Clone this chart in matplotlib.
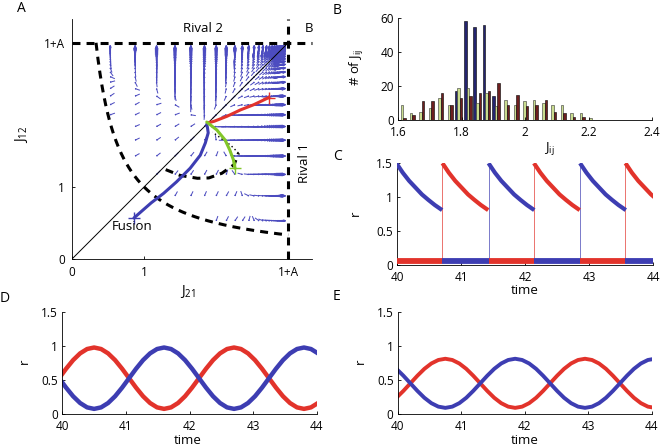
import numpy as np
import matplotlib
matplotlib.use("Agg")
import matplotlib.pyplot as plt
from matplotlib.collections import LineCollection

plt.rcParams['font.family'] = ['Open Sans', 'DejaVu Sans']
plt.rcParams['mathtext.fontset'] = 'custom'
plt.rcParams['mathtext.rm'] = 'Open Sans'
plt.rcParams['mathtext.it'] = 'Open Sans:italic'

BLUE = '#3d3db2'
RED = '#e2332b'
GREEN = '#82c629'
QBLUE = '#4c4cc0'

# ---------------- Panel A data ----------------
one_plus_A = 3.0
node = 1.88
traj_blue_x = [0.86, 1.10, 1.27, 1.45, 1.64, 1.78, 1.85, 1.89, 1.88, 1.87]
traj_blue_y = [0.57, 0.78, 0.91, 1.07, 1.26, 1.44, 1.61, 1.75, 1.82, 1.87]
traj_red_x = [2.73, 2.52, 2.34, 2.15, 1.97, 1.89]
traj_red_y = [2.24, 2.14, 2.07, 1.98, 1.91, 1.89]
traj_green_x = [2.26, 2.24, 2.19, 2.125, 2.01, 1.87]
traj_green_y = [1.26, 1.375, 1.51, 1.65, 1.79, 1.90]
sep_x = [1.30, 1.50, 1.74, 1.90, 2.08, 2.25, 2.31]
sep_y = [1.24, 1.16, 1.12, 1.125, 1.19, 1.31, 1.47]
sep2_x = [2.31, 2.20, 2.06, 1.95]
sep2_y = [1.47, 1.58, 1.68, 1.76]
A_ticks = [0, 1, 3]
A_ticklabels = ['0', '1', '1+A']

# ---------------- Panel B data ----------------
bin_first = 1.612
bin_step = 0.0297
counts_blue = [0, 0, 0, 0, 0, 0, 17, 58, 55, 56, 14, 0, 0, 0, 0, 0, 0, 0, 0, 0, 0]
counts_green = [9, 4, 5, 7, 13, 9, 19, 19, 10, 16, 8, 12, 9, 11, 12, 10, 9, 9, 4, 4, 1]
counts_red = [1, 3, 11, 11, 16, 9, 13, 14, 16, 17, 22, 9, 15, 8, 9, 12, 5, 4, 2, 2, 0]
B_xticks = [1.6, 1.8, 2.0, 2.2, 2.4]
B_xticklabels = ['1.6', '1.8', '2', '2.2', '2.4']
B_yticks = [0, 20, 40, 60]

# ---------------- Panel C data ----------------
c_switch_times = [39.99, 40.71, 41.43, 42.14, 42.86, 43.57]
c_dominant = ['blue', 'red', 'blue', 'red', 'blue', 'red']
c_decay_dt = [0.0, 0.1, 0.2, 0.3, 0.4, 0.5, 0.6, 0.715]
c_decay_r = [1.49, 1.35, 1.23, 1.13, 1.03, 0.95, 0.875, 0.80]
c_low_r = 0.05

# ---------------- Panel D data ----------------
d_t0, d_dt = 39.95, 0.11
d_red = [0.525, 0.664, 0.790, 0.889, 0.953, 0.975, 0.953, 0.889, 0.790, 0.664,
         0.525, 0.386, 0.260, 0.161, 0.097, 0.075, 0.097, 0.161, 0.260, 0.386,
         0.525, 0.664, 0.790, 0.889, 0.953, 0.975, 0.953, 0.889, 0.790, 0.664,
         0.525, 0.386, 0.260, 0.161, 0.097, 0.075, 0.097, 0.161]
d_blue = [0.525, 0.386, 0.260, 0.161, 0.097, 0.075, 0.097, 0.161, 0.260, 0.386,
          0.525, 0.664, 0.790, 0.889, 0.953, 0.975, 0.953, 0.889, 0.790, 0.664,
          0.525, 0.386, 0.260, 0.161, 0.097, 0.075, 0.097, 0.161, 0.260, 0.386,
          0.525, 0.664, 0.790, 0.889, 0.953, 0.975, 0.953, 0.889]

# ---------------- Panel E data ----------------
e_t0, e_dt = 39.98, 0.11
e_red = [0.238, 0.339, 0.45, 0.561, 0.662, 0.741, 0.792, 0.81, 0.792, 0.741,
         0.662, 0.561, 0.45, 0.339, 0.238, 0.159, 0.108, 0.09, 0.108, 0.159,
         0.238, 0.339, 0.45, 0.561, 0.662, 0.741, 0.792, 0.81, 0.792, 0.741,
         0.662, 0.561, 0.45, 0.339, 0.238, 0.159, 0.108, 0.09]
e_blue = [0.662, 0.561, 0.45, 0.339, 0.238, 0.159, 0.108, 0.09, 0.108, 0.159,
          0.238, 0.339, 0.45, 0.561, 0.662, 0.741, 0.792, 0.81, 0.792, 0.741,
          0.662, 0.561, 0.45, 0.339, 0.238, 0.159, 0.108, 0.09, 0.108, 0.159,
          0.238, 0.339, 0.45, 0.561, 0.662, 0.741, 0.792, 0.81]
time_ticks = [40, 41, 42, 43, 44]
r_ticks = [0, 0.5, 1, 1.5]
r_ticklabels = ['0', '0.5', '1', '1.5']

# ---------------- figure ----------------
W, H = 660, 446
fig = plt.figure(figsize=(W / 100, H / 100), dpi=100)


def axes_px(x0, x1, ytop, ybot):
    return fig.add_axes([x0 / W, 1 - ybot / H, (x1 - x0) / W, (ybot - ytop) / H])


def ftext(x, y, s, **kw):
    kw.setdefault('ha', 'center')
    kw.setdefault('va', 'center')
    fig.text(x / W, 1 - y / H, s, **kw)


def style(ax, xpad=4.5, ypad=3):
    for sp in ['top', 'right']:
        ax.spines[sp].set_visible(False)
    for sp in ['left', 'bottom']:
        ax.spines[sp].set_linewidth(0.6)
    ax.tick_params(direction='in', length=2.5, width=0.6, labelsize=8.5)
    ax.tick_params(axis='x', pad=xpad)
    ax.tick_params(axis='y', pad=ypad)


LAB_FS = 9.5

# ---------- Panel A ----------
axA = axes_px(72, 312, 19, 259)
style(axA, xpad=5, ypad=5)
lim = 3.33
axA.set_xlim(0, lim)
axA.set_ylim(0, lim)

# direction field on a grid log-spaced toward 1+A
offs = 2.47 * 0.86 ** np.arange(-1, 29)
g = np.sort(one_plus_A - offs)
X, Y = np.meshgrid(g, g)


def G(u):
    sig = np.where(u > 1.8, 0.35, 1.0)
    return 0.12 + 0.88 * np.exp(-((u - 1.8) / sig) ** 2)


def wfun(u):
    return 1.0 / (3.04 - u)


def target(u):
    return node + 0.45 * (node - u)


kf = 0.0735
U = (target(Y) - X) * wfun(X) * G(Y) * kf
V = (target(X) - Y) * wfun(Y) * G(X) * kf
mask = (X * Y > 1.05)
Xm, Ym, Um, Vm = X[mask], Y[mask], U[mask], V[mask]
L = np.hypot(Um, Vm)
Lc = np.clip(L, 0.07, 1.0)
Um, Vm = Um / L * Lc, Vm / L * Lc
segs = []
ang = np.deg2rad(22)
for x, y, u, v, l in zip(Xm, Ym, Um, Vm, Lc):
    # shaft between grid point and its partner; head sits at the grid point
    sx, sy = x + u, y + v
    segs.append([(sx, sy), (x, y)])
    hl = min(0.22 * l, 0.05)
    bx, by = u / l, v / l
    for s in (ang, -ang):
        rx = bx * np.cos(s) - by * np.sin(s)
        ry = bx * np.sin(s) + by * np.cos(s)
        segs.append([(x, y), (x + hl * rx, y + hl * ry)])
axA.add_collection(LineCollection(segs, colors=QBLUE, linewidths=0.72, zorder=1))

dash = (0, (2.6, 2.0))
hx = np.linspace(1 / one_plus_A, one_plus_A, 300)
axA.plot(hx, 1 / hx, color='k', lw=2.2, linestyle=dash, zorder=3)
axA.plot([0, lim], [one_plus_A, one_plus_A], color='k', lw=2.2, linestyle=dash,
         zorder=3, clip_on=False)
axA.plot([one_plus_A, one_plus_A], [0, lim], color='k', lw=2.2, linestyle=dash,
         zorder=3, clip_on=False)
axA.plot(sep_x, sep_y, color='k', lw=2.2, linestyle=dash, zorder=3)
axA.plot(sep2_x, sep2_y, color='k', lw=1.0, linestyle=(0, (1, 2)), zorder=3)
axA.plot([0, one_plus_A], [0, one_plus_A], color='k', lw=0.7, zorder=2)

axA.plot(traj_blue_x, traj_blue_y, color=BLUE, lw=2.2, zorder=4, solid_capstyle='round')
axA.plot(traj_red_x, traj_red_y, color=RED, lw=2.2, zorder=4, solid_capstyle='round')
axA.plot(traj_green_x, traj_green_y, color=GREEN, lw=2.2, zorder=5, solid_capstyle='round')
axA.plot(traj_blue_x[0], traj_blue_y[0], '+', color=BLUE, ms=8, mew=1, zorder=5)
axA.plot(traj_red_x[0], traj_red_y[0], '+', color=RED, ms=8, mew=1, zorder=5)
axA.plot(traj_green_x[0], traj_green_y[0], '+', color=GREEN, ms=8, mew=1, zorder=5)

axA.set_xticks(A_ticks)
axA.set_xticklabels(A_ticklabels)
axA.set_yticks(A_ticks)
axA.set_yticklabels(A_ticklabels)

ftext(203, 28, 'Rival 2', fontsize=9.5)
ftext(309, 28, 'B', fontsize=9.5)
ftext(305, 163, 'Rival 1', fontsize=9.5, rotation=90)
ftext(132, 226, 'Fusion', fontsize=9.5)
ftext(188, 291, r'J$_{21}$', fontsize=10)
ftext(22, 134, r'J$_{12}$', fontsize=10, rotation=90)

# ---------- Panel B ----------
axB = axes_px(398, 652, 18, 120)
style(axB)
centers = bin_first + bin_step * np.arange(len(counts_green))
bw = bin_step * 0.8 / 3
axB.bar(centers - bw, counts_blue, width=bw, color='#24246f', edgecolor='k', linewidth=0.4)
axB.bar(centers, counts_green, width=bw, color='#c9dc8e', edgecolor='#333', linewidth=0.4)
axB.bar(centers + bw, counts_red, width=bw, color='#6e1f1f', edgecolor='k', linewidth=0.4)
axB.set_xlim(1.6, 2.4)
axB.set_ylim(0, 60)
axB.set_xticks(B_xticks)
axB.set_xticklabels(B_xticklabels)
axB.set_yticks(B_yticks)
ftext(357, 67, r'# of J$_{\mathrm{ij}}$', fontsize=LAB_FS, rotation=90)
ftext(549, 148, r'J$_{\mathrm{ij}}$', fontsize=LAB_FS)

# ---------- Panel C ----------
axC = axes_px(397, 653, 162.5, 264.5)
style(axC)
cols = {'blue': BLUE, 'red': RED}
ends = c_switch_times[1:] + [44.0]
for i, (ts, te, dom) in enumerate(zip(c_switch_times, ends, c_dominant)):
    other = 'red' if dom == 'blue' else 'blue'
    tt = [ts + d for d in c_decay_dt]
    axC.plot(tt, c_decay_r, color=cols[dom], lw=3.0, solid_capstyle='butt', zorder=3)
    axC.plot([ts, te], [c_low_r, c_low_r], color=cols[other], lw=4.2,
             solid_capstyle='butt', zorder=3)
    axC.plot([ts, ts], [c_low_r, c_decay_r[0]], color=cols[dom], lw=0.6, alpha=0.8, zorder=2)
axC.set_xlim(40, 44)
axC.set_ylim(0, 1.5)
axC.set_xticks(time_ticks)
axC.set_yticks(r_ticks)
axC.set_yticklabels(r_ticklabels)
ftext(355, 213, 'r', fontsize=LAB_FS, rotation=90)
ftext(525, 291, 'time', fontsize=LAB_FS)

# ---------- Panel D ----------
axD = axes_px(62.3, 316.7, 311.7, 414)
style(axD)
td = d_t0 + d_dt * np.arange(len(d_red))
axD.plot(td, d_red, color=RED, lw=3.2)
axD.plot(td, d_blue, color=BLUE, lw=3.2)
axD.set_xlim(40, 44)
axD.set_ylim(0, 1.5)
axD.set_xticks(time_ticks)
axD.set_yticks(r_ticks)
axD.set_yticklabels(r_ticklabels)
ftext(24, 361, 'r', fontsize=LAB_FS, rotation=90)
ftext(188, 440, 'time', fontsize=LAB_FS)

# ---------- Panel E ----------
axE = axes_px(397.7, 651.7, 311.7, 414)
style(axE)
te_ = e_t0 + e_dt * np.arange(len(e_red))
axE.plot(te_, e_red, color=RED, lw=2.8)
axE.plot(te_, e_blue, color=BLUE, lw=2.8)
axE.set_xlim(40, 44)
axE.set_ylim(0, 1.5)
axE.set_xticks(time_ticks)
axE.set_yticks(r_ticks)
axE.set_yticklabels(r_ticklabels)
ftext(360, 361, 'r', fontsize=LAB_FS, rotation=90)
ftext(525, 440, 'time', fontsize=LAB_FS)

# panel letters
ftext(21, 8, 'A', fontsize=10)
ftext(337, 10, 'B', fontsize=10)
ftext(337, 156, 'C', fontsize=10)
ftext(5, 298, 'D', fontsize=10)
ftext(337, 297, 'E', fontsize=10)

fig.savefig('out.png', dpi=100)
